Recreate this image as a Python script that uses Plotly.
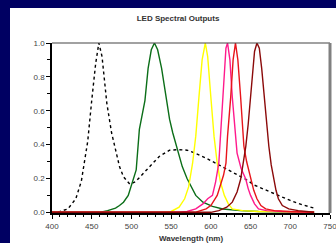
import plotly.graph_objects as go

# ---- data ----
white_wl = [400, 410, 420, 430, 437, 445, 450, 455, 459, 463, 469, 475, 480, 485, 490, 498, 505, 510, 520, 527, 535, 548, 560, 570, 580, 594, 602, 610, 619, 630, 644, 655, 670, 685, 700, 715, 730]
white_val = [0.0, 0.005, 0.02, 0.08, 0.185, 0.42, 0.66, 0.88, 1.0, 0.92, 0.645, 0.47, 0.37, 0.27, 0.21, 0.166, 0.18, 0.205, 0.25, 0.29, 0.33, 0.367, 0.37, 0.367, 0.35, 0.32, 0.30, 0.28, 0.26, 0.23, 0.195, 0.16, 0.13, 0.10, 0.07, 0.045, 0.025]

green_wl = [400, 455, 460, 470, 480, 485, 490, 496, 501, 506, 510, 514, 517, 521, 525, 529, 533, 538, 544, 548, 552, 558, 564, 570, 575, 581, 590, 602, 615, 637, 660, 700, 730]
green_val = [0.0, 0.0, 0.0, 0.01, 0.025, 0.04, 0.06, 0.1, 0.17, 0.25, 0.49, 0.6, 0.66, 0.85, 0.96, 1.0, 0.96, 0.85, 0.66, 0.55, 0.47, 0.37, 0.27, 0.2, 0.15, 0.1, 0.06, 0.035, 0.02, 0.01, 0.005, 0.0, 0.0]

yellow_wl = [400, 540, 550, 560, 567, 572, 577, 581, 585, 589, 593, 596, 600, 604, 608, 612, 617, 622, 627, 640, 660, 680, 730]
yellow_val = [0.0, 0.0, 0.005, 0.03, 0.08, 0.15, 0.29, 0.45, 0.68, 0.9, 1.0, 0.92, 0.68, 0.45, 0.29, 0.18, 0.1, 0.05, 0.02, 0.01, 0.005, 0.005, 0.0]

pink_wl = [400, 560, 570, 581, 590, 596, 602, 606, 610, 612, 614.5, 617, 619, 621, 624, 627, 630, 633, 638, 644, 647, 650, 655, 660, 670, 690, 730]
pink_val = [0.0, 0.0, 0.005, 0.02, 0.05, 0.08, 0.1, 0.18, 0.29, 0.45, 0.68, 0.85, 0.97, 1.0, 0.9, 0.68, 0.5, 0.35, 0.26, 0.195, 0.14, 0.1, 0.05, 0.02, 0.01, 0.005, 0.0]

red_wl = [400, 580, 594, 600, 608, 613, 616, 619, 621, 625, 628, 631, 634, 637.5, 640, 641.6, 645, 650, 654, 658, 663, 669, 680, 700, 730]
red_val = [0.0, 0.0, 0.02, 0.04, 0.1, 0.18, 0.22, 0.29, 0.45, 0.68, 0.9, 1.0, 0.9, 0.68, 0.5, 0.39, 0.3, 0.195, 0.13, 0.08, 0.04, 0.02, 0.01, 0.005, 0.0]

deepred_wl = [400, 600, 610, 620, 627, 633, 637.5, 641, 644, 647, 650, 653, 655, 658, 661, 664, 667, 670, 673, 676, 679, 682, 685, 690, 698, 710, 730]
deepred_val = [0.0, 0.0, 0.01, 0.03, 0.06, 0.12, 0.195, 0.3, 0.39, 0.52, 0.68, 0.85, 0.95, 1.0, 0.97, 0.85, 0.68, 0.52, 0.39, 0.28, 0.195, 0.13, 0.08, 0.04, 0.02, 0.01, 0.0]

x_ticks = [400, 450, 500, 550, 600, 650, 700, 750]
y_ticks = [0.0, 0.2, 0.4, 0.6, 0.8, 1.0]

W, H = 336, 243
ML, MR, MT, MB = 52, 6, 43, 30

fig = go.Figure()
series = [
    (white_wl, white_val, "black", "dot", 1.4),
    (green_wl, green_val, "#0b6e18", "solid", 1.4),
    (yellow_wl, yellow_val, "#ffff00", "solid", 1.4),
    (pink_wl, pink_val, "#ff1a8c", "solid", 1.4),
    (red_wl, red_val, "#e8141b", "solid", 1.4),
    (deepred_wl, deepred_val, "#8b0a0a", "solid", 1.4),
]
for xs, ys, col, dash, w in series:
    fig.add_trace(go.Scatter(x=xs, y=ys, mode="lines",
                             line=dict(color=col, width=w, dash=dash),
                             showlegend=False, hoverinfo="skip"))

font_family = "Liberation Sans, Arial, sans-serif"

fig.update_layout(
    width=W, height=H,
    margin=dict(l=ML, r=MR, t=MT, b=MB, pad=0, autoexpand=False),
    paper_bgcolor="#000062",
    plot_bgcolor="white",
    font=dict(family=font_family, size=8, color="#444"),
    title=dict(text="<b>LED Spectral Outputs</b>", x=178 / W, xref="container",
               y=1 - 18 / H, yref="container", xanchor="center", yanchor="middle",
               font=dict(size=8, color="#333", family=font_family)),
    shapes=[
        dict(type="rect", xref="paper", yref="paper",
             x0=(10 - ML) / (W - ML - MR), x1=(W - ML) / (W - ML - MR),
             y0=-(MB) / (H - MT - MB), y1=1 + (MT - 8) / (H - MT - MB),
             fillcolor="white", line=dict(width=0), layer="below"),
        dict(type="line", xref="paper", yref="paper", x0=0, x1=1, y0=1, y1=1,
             line=dict(color="#444", width=1.2)),
        dict(type="line", xref="paper", yref="paper", x0=1, x1=1, y0=0, y1=1,
             line=dict(color="#808080", width=3)),
    ],
)

fig.update_xaxes(
    range=[400, 750], tickvals=x_ticks, ticktext=[str(v) for v in x_ticks],
    showgrid=False, zeroline=False, ticklabeloverflow="allow", automargin=False,
    showline=True, linecolor="black", linewidth=2,
    ticks="outside", ticklen=4, tickwidth=1, tickcolor="black",
    minor=dict(dtick=10, ticks="outside", ticklen=2, tickcolor="black", showgrid=False),
    tickfont=dict(size=8, color="#444"),
    title=dict(text="<b>Wavelength (nm)</b>", font=dict(size=8, color="#333"), standoff=6),
)
fig.update_yaxes(
    range=[-0.004, 1.0], tickvals=y_ticks, ticktext=["%.1f" % v for v in y_ticks],
    showgrid=False, zeroline=False, automargin=False,
    showline=True, linecolor="black", linewidth=1.5,
    ticks="outside", ticklen=4, tickwidth=1, tickcolor="black",
    minor=dict(dtick=0.1, tick0=0, ticks="outside", ticklen=3, tickcolor="black", showgrid=False),
    tickfont=dict(size=8, color="#444"),
)

fig.write_html("out.html", config={"displayModeBar": False},
               post_script="document.body.style.margin='0';document.body.style.overflow='hidden';")
